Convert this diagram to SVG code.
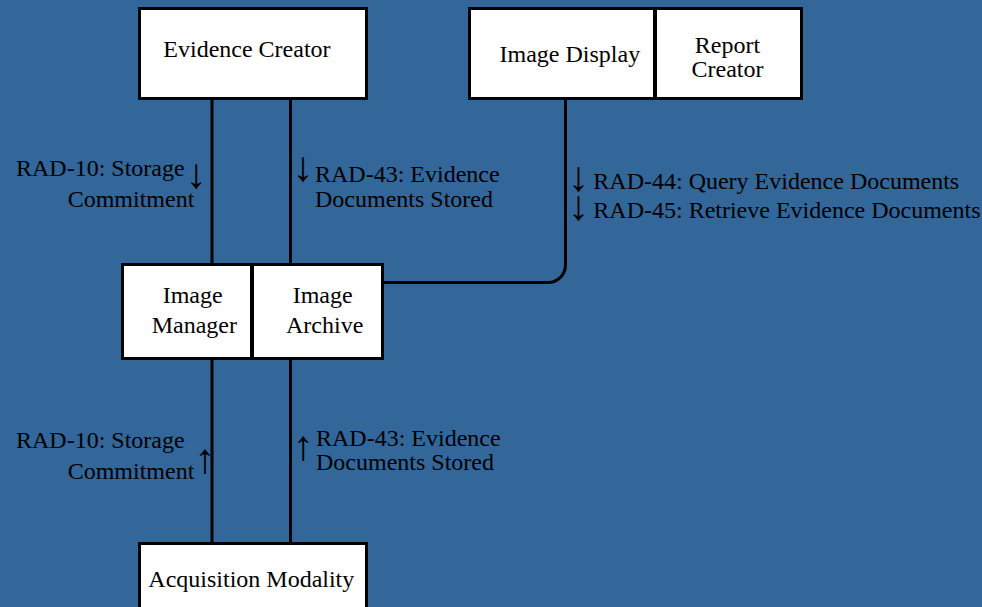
<svg xmlns="http://www.w3.org/2000/svg" width="982" height="607" viewBox="0 0 982 607">
<style>
.bg{fill:#336699}
.box{fill:#ffffff;stroke:#000000;stroke-width:3}
.con{fill:none;stroke:#000000;stroke-width:3}
text{font-family:"Liberation Serif","Times New Roman",serif;font-size:24px;fill:#000000}
.mid{text-anchor:middle}
.arr{font-size:42px;text-anchor:middle}
</style>
<rect class="bg" x="0" y="0" width="982" height="607"/>
<g id="connectors">
<path class="con" d="M212,100 V263"/>
<path class="con" d="M290.5,100 V263"/>
<path class="con" d="M212,360 V542"/>
<path class="con" d="M290.5,360 V542"/>
<path class="con" d="M384,282.5 H548 A17.5,17.5 0 0 0 565.5,265 V100"/>
</g>
<g id="evidence-creator">
<rect class="box" x="139.5" y="8.5" width="227" height="90"/>
<text x="163.3" y="56.5">Evidence Creator</text>
</g>
<g id="image-display">
<rect class="box" x="469.5" y="8.5" width="185" height="90"/>
<text x="499.5" y="62">Image Display</text>
</g>
<g id="report-creator">
<rect class="box" x="655.5" y="8.5" width="146" height="90"/>
<text class="mid" x="727.5" y="52.7">Report</text>
<text class="mid" x="727.5" y="77.3">Creator</text>
</g>
<g id="image-manager">
<rect class="box" x="122.5" y="264.5" width="129" height="94"/>
<text x="162.7" y="303.3">Image</text>
<text x="151.7" y="333.3">Manager</text>
</g>
<g id="image-archive">
<rect class="box" x="252.5" y="264.5" width="130" height="94"/>
<text x="292.7" y="303.3">Image</text>
<text x="286" y="333.3">Archive</text>
</g>
<g id="acquisition-modality">
<rect class="box" x="139.5" y="543.5" width="227" height="90"/>
<text x="148.3" y="587.3">Acquisition Modality</text>
</g>
<g id="labels">
<text><tspan x="16" y="175.7">RAD-10: Storage</tspan><tspan class="arr" x="196" y="188">↓</tspan><tspan x="67.7" y="207">Commitment</tspan></text>
<text><tspan class="arr" x="302.7" y="181">↓</tspan><tspan x="315" y="181.7">RAD-43: Evidence</tspan><tspan x="315" y="206.7">Documents Stored</tspan></text>
<text><tspan class="arr" x="578.3" y="191">↓</tspan><tspan x="593.3" y="189">RAD-44: Query Evidence Documents</tspan><tspan class="arr" x="578.3" y="220">↓</tspan><tspan x="593.3" y="218">RAD-45: Retrieve Evidence Documents</tspan></text>
<text><tspan x="16" y="447.7">RAD-10: Storage</tspan><tspan x="67.7" y="479">Commitment</tspan><tspan class="arr" x="204.7" y="473">↑</tspan></text>
<text><tspan class="arr" x="303" y="460">↑</tspan><tspan x="316" y="445.7">RAD-43: Evidence</tspan><tspan x="316" y="470">Documents Stored</tspan></text>
</g>
</svg>
